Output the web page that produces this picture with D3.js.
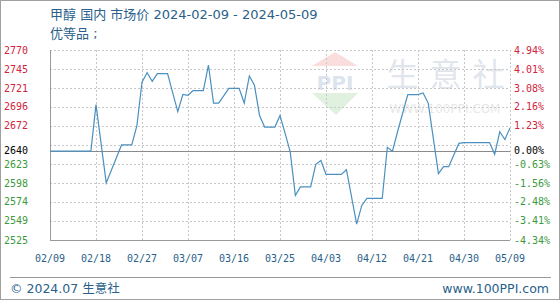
<!DOCTYPE html>
<html>
<head>
<meta charset="utf-8">
<script src="https://cdn.jsdelivr.net/npm/d3@7"></script>
<style>
  body { margin: 0; background: #fff; }
  svg { display: block; }
</style>
</head>
<body>
<div id="chart"></div>
<script>
// price points (vertices)
const dates = ["2024-02-09","2024-02-17","2024-02-18","2024-02-20","2024-02-23","2024-02-25","2024-02-26","2024-02-27","2024-02-28","2024-02-29",
  "2024-03-01","2024-03-03","2024-03-05","2024-03-06","2024-03-07","2024-03-08","2024-03-10","2024-03-11","2024-03-12","2024-03-13",
  "2024-03-15","2024-03-17","2024-03-18","2024-03-19","2024-03-20","2024-03-21","2024-03-22","2024-03-24","2024-03-25","2024-03-26",
  "2024-03-27","2024-03-28","2024-03-29","2024-03-31","2024-04-01","2024-04-02","2024-04-03","2024-04-06","2024-04-07","2024-04-09",
  "2024-04-10","2024-04-11","2024-04-14","2024-04-15","2024-04-16","2024-04-17","2024-04-19","2024-04-21","2024-04-22","2024-04-23",
  "2024-04-25","2024-04-26","2024-04-27","2024-04-29","2024-04-30","2024-05-05","2024-05-06","2024-05-07","2024-05-08","2024-05-09"];
const prices = [2640,2640,2700,2599,2648,2648,2673,2729,2741,2730,
  2740,2740,2691,2713,2712,2718,2718,2751,2702,2702,
  2721,2721,2702,2737,2725,2686,2671,2671,2686,2663,
  2639,2583,2594,2594,2623,2628,2610,2610,2616,2546,
  2570,2579,2579,2645,2640,2665,2713,2713,2715,2702,
  2611,2620,2620,2650,2651,2651,2636,2665,2655,2670];

const basePrice = 2640;
const pctTicks = [4.94, 4.01, 3.08, 2.16, 1.23, 0.30, -0.63, -1.56, -2.48, -3.41, -4.34];
const leftLabels = ["2770","2745","2721","2696","2672","","2623","2598","2574","2549","2525"];
const rightLabels = ["4.94%","4.01%","3.08%","2.16%","1.23%","","-0.63%","-1.56%","-2.48%","-3.41%","-4.34%"];
const xLabels = ["02/09","02/18","02/27","03/07","03/16","03/25","04/03","04/12","04/21","04/30","05/09"];

const W = 560, H = 300;
const plotL = 50, plotR = 510, plotT = 50, plotB = 240;
const parse = d3.utcParse("%Y-%m-%d");
const data = dates.map((d, i) => ({ date: parse(d), price: prices[i] }));
const tickDates = xLabels.map(l => parse("2024-" + l.replace("/", "-")));

const x = d3.scaleUtc().domain([tickDates[0], tickDates[tickDates.length - 1]]).range([plotL, plotR]);
const gridPrices = pctTicks.map(p => basePrice * (1 + p / 100));
const y = d3.scaleLinear().domain([d3.min(gridPrices), d3.max(gridPrices)]).range([plotB, plotT]);
const px = v => Math.round(v) + 0.5;

const svg = d3.select("#chart").append("svg").attr("width", W).attr("height", H);

// outer frame
svg.append("rect").attr("x", 0.5).attr("y", 0.5).attr("width", W - 1).attr("height", H - 1)
  .attr("fill", "none").attr("stroke", "#a0a0a0");

// title
const textFont = "DejaVu Sans, Noto Sans CJK SC";
svg.append("text").attr("x", 50).attr("y", 19)
  .attr("font-family", textFont).attr("font-size", 13).attr("fill", "#2a5f8a")
  .text("甲醇 国内 市场价 2024-02-09 - 2024-05-09");
svg.append("text").attr("x", 50).attr("y", 38)
  .attr("font-family", textFont).attr("font-size", 13).attr("fill", "#2a5f8a")
  .text("优等品 ;");

// watermark
const wm = svg.append("g").attr("opacity", 0.35);
wm.append("path").attr("d", "M312,66 L335,52 L358,66 Z").attr("fill", "#f2a0a0");
wm.append("text").attr("x", 335).attr("y", 90).attr("text-anchor", "middle")
  .attr("font-family", "DejaVu Sans").attr("font-weight", "bold").attr("font-size", 20)
  .attr("fill", "#9db4d4").text("PPI");
wm.append("path").attr("d", "M312,93 L358,93 L336,115 Z").attr("fill", "#a8d8a8");
wm.append("text").attr("x", 451).attr("y", 86).attr("text-anchor", "middle")
  .attr("font-family", "Noto Sans CJK SC").attr("font-size", 32).attr("letter-spacing", 11)
  .attr("fill", "#aab8cc").text("生意社");
wm.append("text").attr("x", 445).attr("y", 113).attr("text-anchor", "middle")
  .attr("font-family", "DejaVu Sans").attr("font-size", 12)
  .attr("fill", "#bbbbbb").text("WWW.100PPI.COM");

// grid
svg.append("g").selectAll("line").data(gridPrices).join("line")
  .attr("x1", plotL).attr("x2", plotR)
  .attr("y1", d => px(y(d))).attr("y2", d => px(y(d)))
  .attr("stroke", "#c8c8c8").attr("stroke-dasharray", "2,2");
svg.append("g").selectAll("line").data(tickDates).join("line")
  .attr("x1", d => px(x(d))).attr("x2", d => px(x(d)))
  .attr("y1", plotT).attr("y2", plotB)
  .attr("stroke", "#c8c8c8").attr("stroke-dasharray", "2,2");

// axes lines
svg.append("line").attr("x1", plotL + 0.5).attr("x2", plotL + 0.5).attr("y1", plotT).attr("y2", plotB)
  .attr("stroke", "#999");
svg.append("line").attr("x1", plotL).attr("x2", plotR).attr("y1", plotB + 0.5).attr("y2", plotB + 0.5)
  .attr("stroke", "#999");
svg.append("line").attr("x1", plotL).attr("x2", plotR)
  .attr("y1", px(y(basePrice))).attr("y2", px(y(basePrice)))
  .attr("stroke", "#8a8a8a");

// y labels
const labelFont = "DejaVu Sans Mono";
const colorOf = i => pctTicks[i] > 0 ? "#d0243c" : "#3c9a3c";
svg.append("g").selectAll("text").data(gridPrices).join("text")
  .attr("x", 28).attr("y", d => y(d)).attr("dy", "0.35em").attr("text-anchor", "end")
  .attr("font-family", labelFont).attr("font-size", 10)
  .attr("fill", (d, i) => colorOf(i)).text((d, i) => leftLabels[i]);
svg.append("g").selectAll("text").data(gridPrices).join("text")
  .attr("x", 514).attr("y", d => y(d)).attr("dy", "0.35em")
  .attr("font-family", labelFont).attr("font-size", 10)
  .attr("fill", (d, i) => colorOf(i)).text((d, i) => rightLabels[i]);
svg.append("text").attr("x", 28).attr("y", y(basePrice) - 1).attr("dy", "0.35em").attr("text-anchor", "end")
  .attr("font-family", labelFont).attr("font-size", 10).attr("fill", "#000").text(basePrice);
svg.append("text").attr("x", 514).attr("y", y(basePrice) - 1).attr("dy", "0.35em")
  .attr("font-family", labelFont).attr("font-size", 10).attr("fill", "#000").text("0.00%");

// x labels
svg.append("g").selectAll("text").data(tickDates).join("text")
  .attr("x", d => x(d)).attr("y", 258).attr("dy", "0.35em").attr("text-anchor", "middle")
  .attr("font-family", labelFont).attr("font-size", 10).attr("fill", "#2a5f8a")
  .text((d, i) => xLabels[i]);

// price line
svg.append("path").datum(data)
  .attr("d", d3.line().x(d => x(d.date)).y(d => y(d.price)))
  .attr("fill", "none").attr("stroke", "#4a90c0").attr("stroke-width", 1.2);

// footer
svg.append("line").attr("x1", 10).attr("x2", 551).attr("y1", 277.5).attr("y2", 277.5).attr("stroke", "#999");
svg.append("text").attr("x", 10).attr("y", 293)
  .attr("font-family", textFont).attr("font-size", 12.5).attr("fill", "#2a5f8a")
  .text("© 2024.07 生意社");
svg.append("text").attr("x", 549).attr("y", 293).attr("text-anchor", "end")
  .attr("font-family", textFont).attr("font-size", 12.5).attr("fill", "#2a5f8a")
  .text("www.100PPI.com");
</script>
</body>
</html>
